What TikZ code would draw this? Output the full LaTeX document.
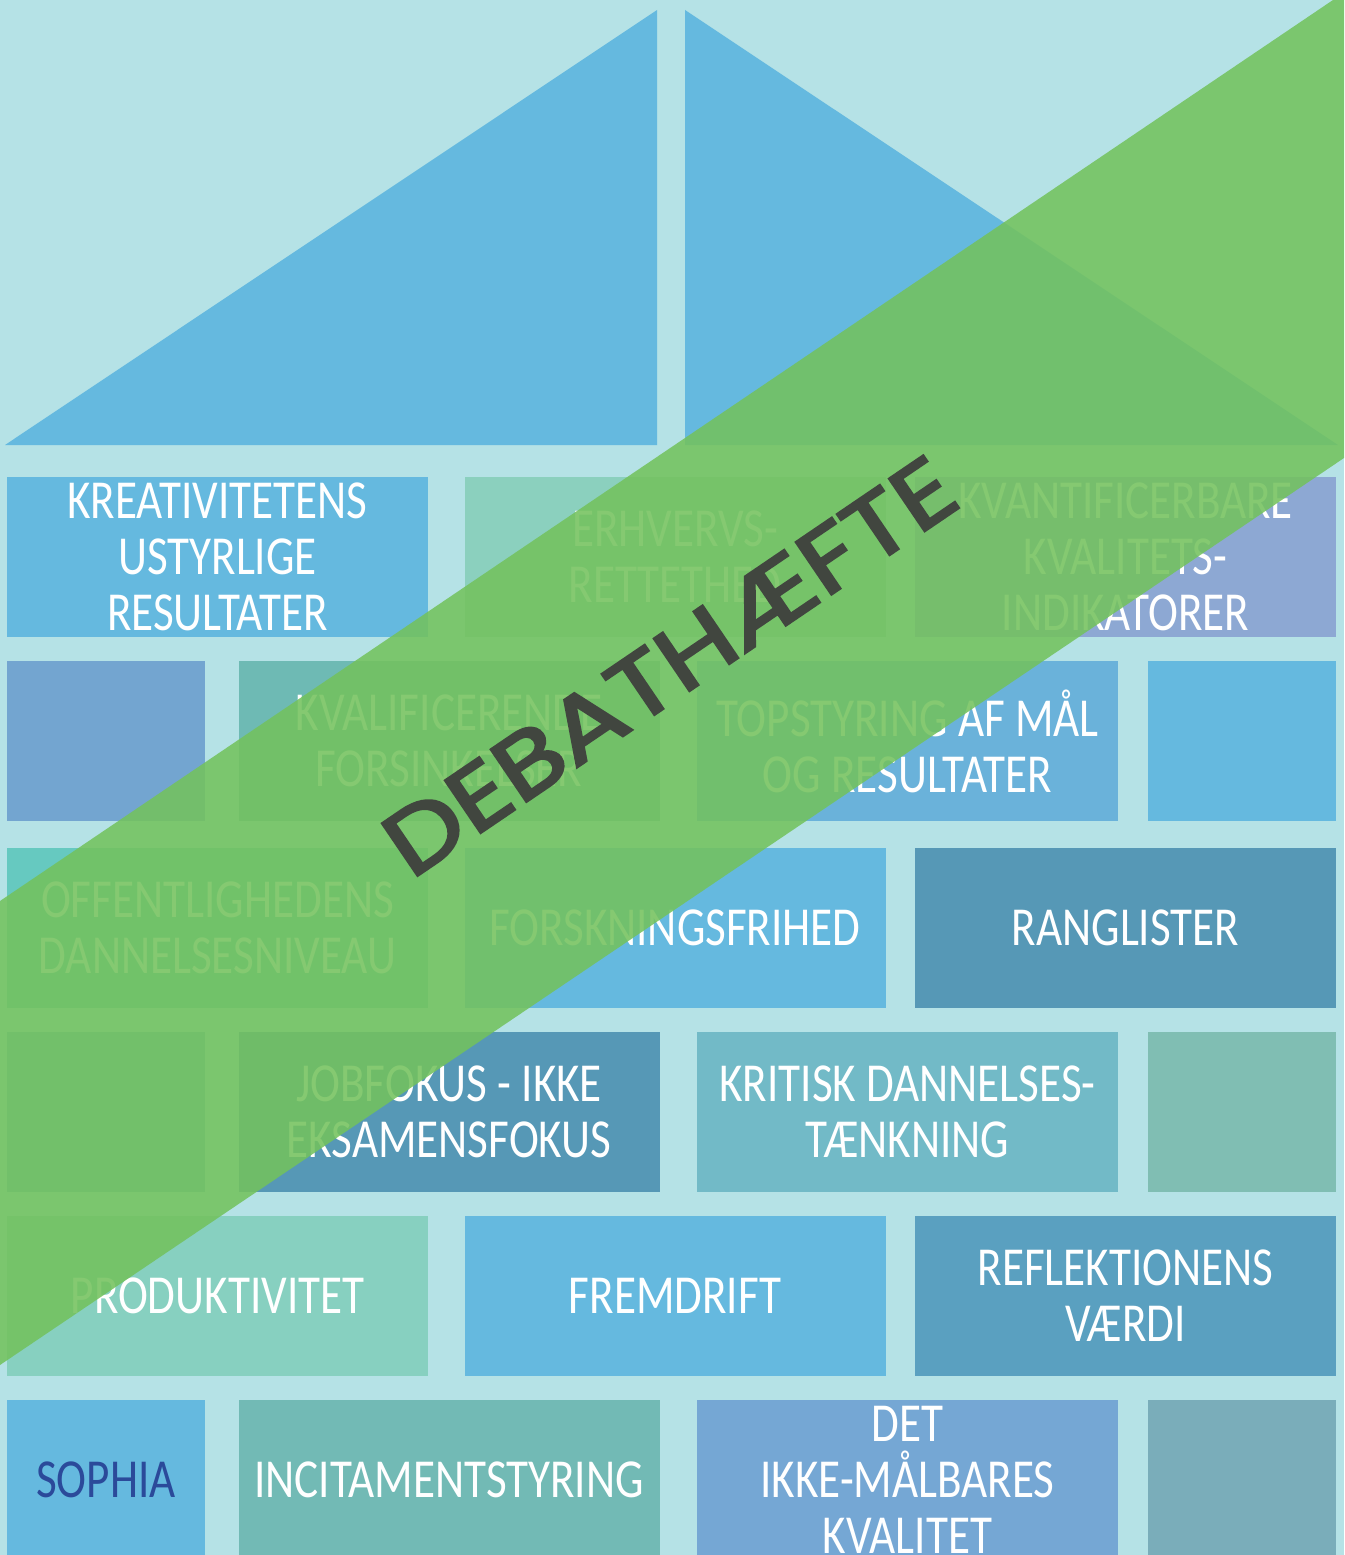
\documentclass[tikz,border=0pt]{standalone}
\usepackage{fontspec}
\usepackage{graphicx}
\newfontfamily\brickfont{Carlito}[FakeStretch=0.82]
\newfontfamily\debfont{Poppins}[FakeBold=3]
\definecolor{bgc}{HTML}{B5E2E6}
\definecolor{roofc}{HTML}{65B9DF}
\definecolor{bandc}{HTML}{73C25D}
\definecolor{debc}{HTML}{41463F}
\definecolor{sophc}{HTML}{2B4A9A}
\definecolor{cBlue}{HTML}{65B9DF}
\definecolor{cMint}{HTML}{8BD0BE}
\definecolor{cLav}{HTML}{8DA8D3}
\definecolor{cSteel}{HTML}{73A5D0}
\definecolor{cTeal}{HTML}{6EBAB4}
\definecolor{cTop}{HTML}{6AB2DA}
\definecolor{cTurq}{HTML}{66C9C0}
\definecolor{cDark}{HTML}{5698B6}
\definecolor{cHid}{HTML}{72B9C6}
\definecolor{cKrit}{HTML}{72BAC7}
\definecolor{cGreenT}{HTML}{80BEB3}
\definecolor{cProd}{HTML}{87D0C0}
\definecolor{cRefl}{HTML}{5AA0C0}
\definecolor{cInc}{HTML}{72BAB5}
\definecolor{cDet}{HTML}{75A7D4}
\definecolor{cLast}{HTML}{7AADBA}
\begin{document}
\begin{tikzpicture}[x=1pt,y=-1pt,
  brick/.style={inner sep=0pt, outer sep=0pt, minimum height=160, align=center,
    text=white, font=\brickfont\fontsize{55}{56}\selectfont},
  wide/.style={brick, minimum width=421},
  narrowL/.style={brick, minimum width=198},
  narrowR/.style={brick, minimum width=188},
  debtext/.style={inner sep=0pt, outer sep=0pt, text=debc, font=\debfont}]
\useasboundingbox (0,0) rectangle (1344,1555);
\fill[bgc] (0,0) rectangle (1344,1555);
% roof
\fill[roofc] (5,445) -- (657,10) -- (657,445) -- cycle;
\fill[roofc] (685,10) -- (685,445) -- (1338,445) -- cycle;
% row 1
\node[wide, fill=cBlue] (b11) at (217.5,557) {KREATIVITETENS\\USTYRLIGE\\RESULTATER};
\node[wide, fill=cMint] (b12) at (675,557) {ERHVERVS-\\RETTETHED};
\node[wide, fill=cLav] (b13) at (1125.5,557) {KVANTIFICERBARE\\KVALITETS-\\INDIKATORER};
% row 2
\node[narrowL, fill=cSteel] (b21) at (106,741) {};
\node[wide, fill=cTeal] (b22) at (449,741) {KVALIFICERENDE\\FORSINKELSER};
\node[wide, fill=cTop] (b23) at (907.5,741) {TOPSTYRING AF MÅL\\OG RESULTATER};
\node[narrowR, fill=cBlue] (b24) at (1242,741) {};
% row 3
\node[wide, fill=cTurq] (b31) at (217.5,927.5) {OFFENTLIGHEDENS\\DANNELSESNIVEAU};
\node[wide, fill=cBlue] (b32) at (675,927.5) {FORSKNINGSFRIHED};
\node[wide, fill=cDark] (b33) at (1125.5,927.5) {RANGLISTER};
% row 4
\node[narrowL, fill=cHid] (b41) at (106,1111.5) {};
\node[wide, fill=cDark] (b42) at (449,1111.5) {JOBFOKUS - IKKE\\EKSAMENSFOKUS};
\node[wide, fill=cKrit] (b43) at (907.5,1111.5) {KRITISK DANNELSES-\\TÆNKNING};
\node[narrowR, fill=cGreenT] (b44) at (1242,1111.5) {};
% row 5
\node[wide, fill=cProd] (b51) at (217.5,1296) {PRODUKTIVITET};
\node[wide, fill=cBlue] (b52) at (675,1296) {FREMDRIFT};
\node[wide, fill=cRefl] (b53) at (1125.5,1296) {REFLEKTIONENS\\VÆRDI};
% row 6
\node[narrowL, fill=cBlue, text=sophc] (b61) at (106,1480) {SOPHIA};
\node[wide, fill=cInc] (b62) at (449,1480) {INCITAMENTSTYRING};
\node[wide, fill=cDet] (b63) at (907.5,1480) {DET\\IKKE-MÅLBARES\\KVALITET};
\node[narrowR, fill=cLast] (b64) at (1242,1480) {};
% green band
\fill[bandc, fill opacity=0.87] (0,901) -- (1333,0) -- (1344,0) -- (1344,458) -- (0,1365) -- cycle;
\node[debtext, rotate=34.2, anchor=south west] (deb) at (411,880) {\resizebox{668pt}{63pt}{DEBATHÆFTE}};
\end{tikzpicture}
\end{document}
